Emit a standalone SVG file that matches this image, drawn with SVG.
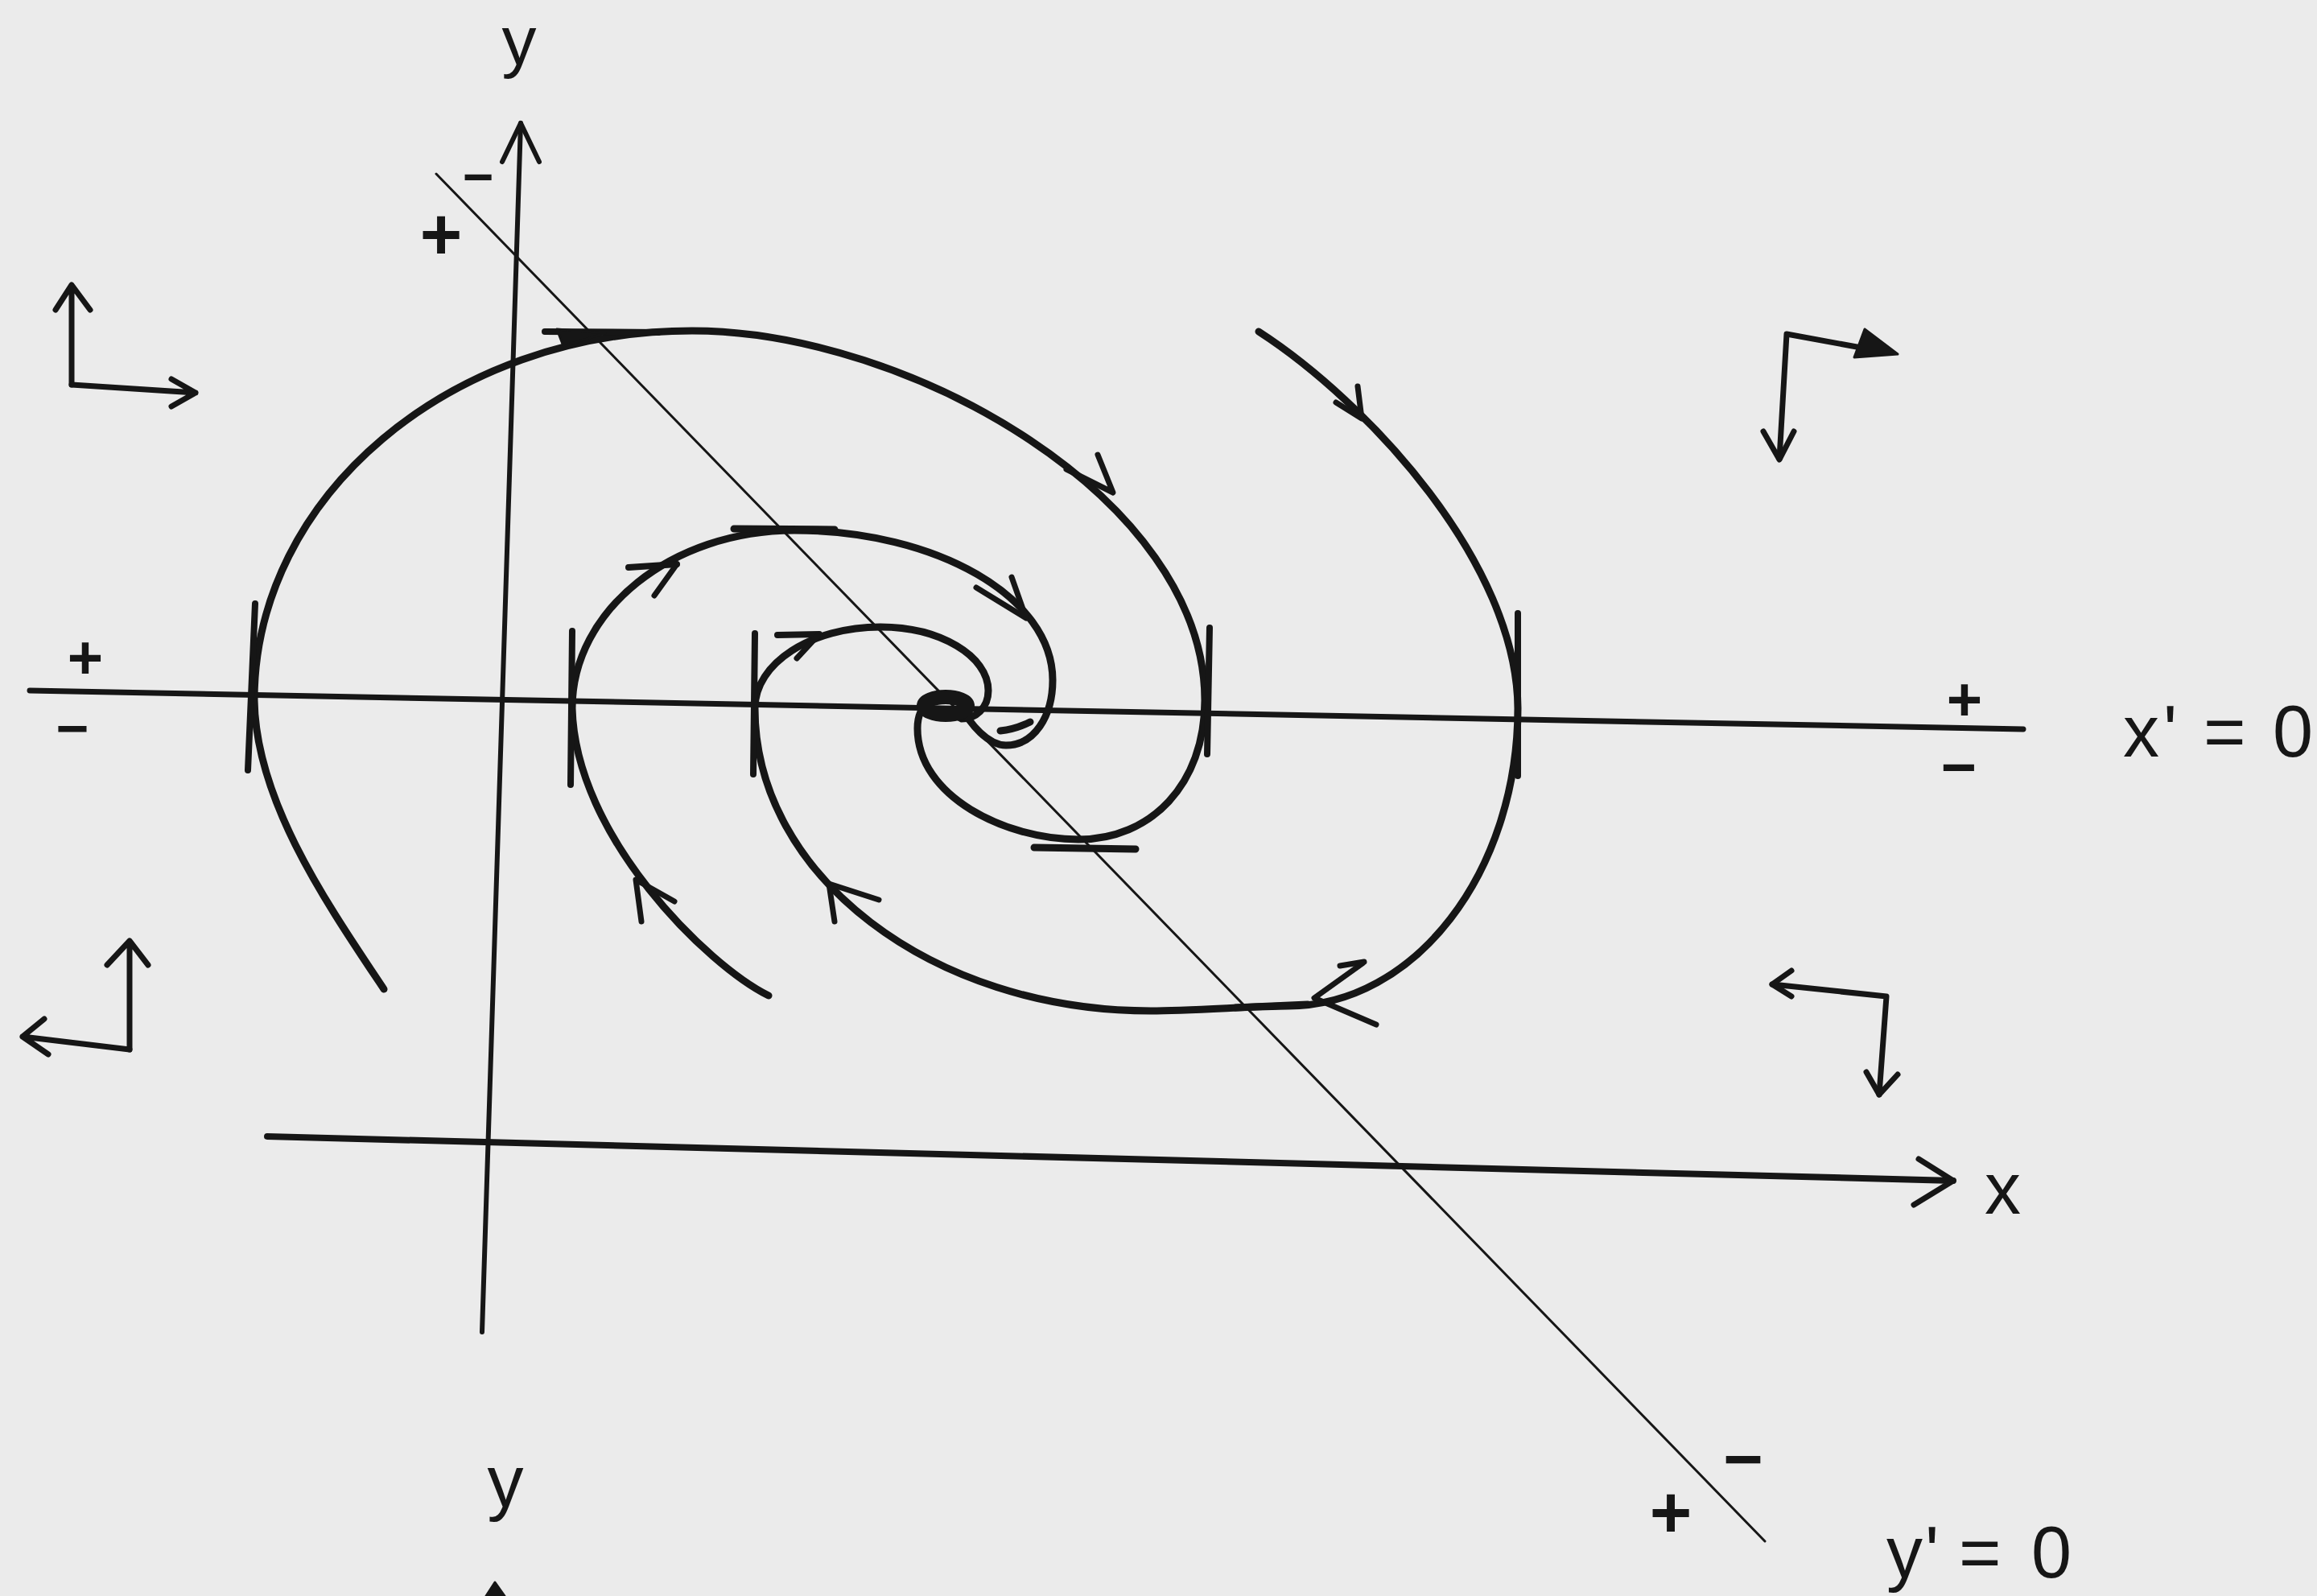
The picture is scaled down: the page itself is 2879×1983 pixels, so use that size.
<svg xmlns="http://www.w3.org/2000/svg" width="2879" height="1983" viewBox="0 0 2879 1983">
<style>
.ink{fill:none;stroke:#161616;stroke-linecap:round;stroke-linejoin:round}
.axis{stroke-width:7}
.thin{stroke-width:3}
.traj{stroke-width:9}
.tick{stroke-width:8}
.arr{stroke-width:7}
.fillink{fill:#161616;stroke:#161616;stroke-width:3;stroke-linejoin:round}
.lbl{font-family:"Liberation Sans",Arial,sans-serif;fill:#161616}
.sign{font-weight:bold;text-anchor:middle}
</style>
<rect width="2879" height="1983" fill="#ebebeb"/>

<g id="axes">
  <path class="ink axis" style="stroke-width:6" d="M647,153 L599,1655"/>
  <path class="ink axis" style="stroke-width:6" d="M624,201 L647,153 L670,201"/>
  <path class="ink axis" style="stroke-width:8" d="M332,1412 L2427,1467"/>
  <path class="ink axis" d="M2384,1440 L2427,1467 L2378,1497"/>
  <path class="fillink" d="M615,1966 L604,1983 L627,1983 Z"/>
</g>

<g id="nullclines">
  <path id="xprime0" class="ink axis" d="M37,858 L2514,906"/>
  <path id="yprime0" class="ink thin" d="M542,216 L2193,1915"/>
</g>

<g id="trajectories">
  <path id="trajA" class="ink traj" d="M477,1229 C405,1121 318,995 316,870 C316,616 560,411 860,411 C1130,411 1497,620 1497,870 C1497,975 1430,1043 1340,1043 C1250,1043 1140,990 1140,905 C1140,872 1165,860 1188,868"/>
  <path id="trajB" class="ink traj" d="M1564,412 C1700,500 1885,700 1886,880 C1886,1084 1758,1250 1600,1250 C1560,1250 1480,1256 1430,1256 C1158,1256 938,1088 938,880 C938,824 1008,779 1094,779 C1168,779 1228,815 1228,858 C1228,880 1212,893 1195,893 L1182,886"/>
  <path id="trajC" class="ink traj" d="M955,1237 C880,1200 715,1040 711,880 C711,758 835,659 987,659 C1164,659 1308,742 1308,845 C1308,890 1285,926 1250,926 C1228,926 1205,900 1195,878"/>
  <ellipse id="equilibrium" cx="1175" cy="877" rx="27" ry="11" class="ink" style="stroke-width:18"/>
  <path class="ink traj" d="M1243,908 Q1262,906 1280,897"/>
</g>

<g id="ticks">
  <path class="ink tick" d="M317,750 L308,957"/>
  <path class="ink tick" d="M677,412 L818,413"/>
  <path class="fillink" d="M692,409 L752,414 L700,430 Z"/>
  <path class="ink tick" d="M1503,780 L1500,937"/>
  <path class="ink tick" style="stroke-width:9" d="M1285,1053 L1411,1055"/>
  <path class="ink tick" d="M1886,762 L1886,964"/>
  <path class="ink tick" style="stroke-width:9" d="M1535,1252 L1625,1248"/>
  <path class="ink tick" d="M938,787 L936,962"/>
  <path class="ink tick" d="M966,789 L1018,788"/>
  <path class="ink tick" d="M711,784 L709,975"/>
  <path class="ink tick" d="M781,705 L841,701"/>
  <path class="ink tick" style="stroke-width:9" d="M912,657 L1037,658"/>
</g>

<g id="arrowheads">
  <path class="ink arr" d="M1325,583 L1383,612 L1364,565"/>
  <path class="ink arr" d="M1660,500 L1692,520 L1687,480"/>
  <path class="ink arr" d="M1693,1197 L1633,1240 L1710,1273"/>
  <path class="ink arr" d="M1665,1200 L1695,1195"/>
  <path class="ink arr" d="M1037,1145 L1030,1098 L1092,1118"/>
  <path class="ink arr" d="M990,818 L1016,790"/>
  <path class="ink arr" d="M797,1145 L790,1093 L838,1120"/>
  <path class="ink arr" d="M813,740 L841,701"/>
  <path class="ink arr" d="M1213,730 L1275,768 L1257,717"/>
</g>

<g id="direction-indicators">
  <g id="dir-tl">
    <path class="ink arr" d="M89,478 L89,356 M69,385 L89,354 L112,385"/>
    <path class="ink arr" d="M89,478 L243,488 M213,471 L243,488 L213,505"/>
  </g>
  <g id="dir-tr">
    <path class="ink arr" d="M2211,570 L2220,415 L2340,437"/>
    <path class="fillink" d="M2317,409 L2358,440 L2304,444 Z"/>
    <path class="ink arr" d="M2191,536 L2211,571 L2229,536"/>
  </g>
  <g id="dir-bl">
    <path class="ink arr" d="M161,1304 L161,1169 M133,1199 L161,1169 L184,1199"/>
    <path class="ink arr" d="M161,1304 L28,1288 M55,1266 L28,1288 L60,1310"/>
  </g>
  <g id="dir-br">
    <path class="ink arr" d="M2202,1223 L2344,1238 L2335,1360"/>
    <path class="ink arr" d="M2226,1206 L2202,1223 L2226,1238"/>
    <path class="ink arr" d="M2319,1332 L2335,1360 L2358,1335"/>
  </g>
</g>

<g id="labels" class="lbl">
  <text x="645" y="80" font-size="86" text-anchor="middle">y</text>
  <text x="628" y="1872" font-size="90" text-anchor="middle">y</text>
  <text x="2466" y="1508" font-size="90">x</text>
  <text x="2638" y="940" font-size="90">x<tspan x="2688">'</tspan><tspan x="2738">=</tspan><tspan x="2824">0</tspan></text>
  <text x="2344" y="1960" font-size="90">y<tspan x="2392">'</tspan><tspan x="2434">=</tspan><tspan x="2524">0</tspan></text>
  <text class="sign" x="106" y="843" font-size="76">+</text>
  <text class="sign" x="90" y="929" font-size="70">−</text>
  <text class="sign" x="2441" y="895" font-size="76">+</text>
  <text class="sign" x="2434" y="979" font-size="76">−</text>
  <text class="sign" x="594" y="242" font-size="66">−</text>
  <text class="sign" x="548" y="322" font-size="90">+</text>
  <text class="sign" x="2166" y="1842" font-size="85">−</text>
  <text class="sign" x="2076" y="1910" font-size="90">+</text>
</g>
</svg>
